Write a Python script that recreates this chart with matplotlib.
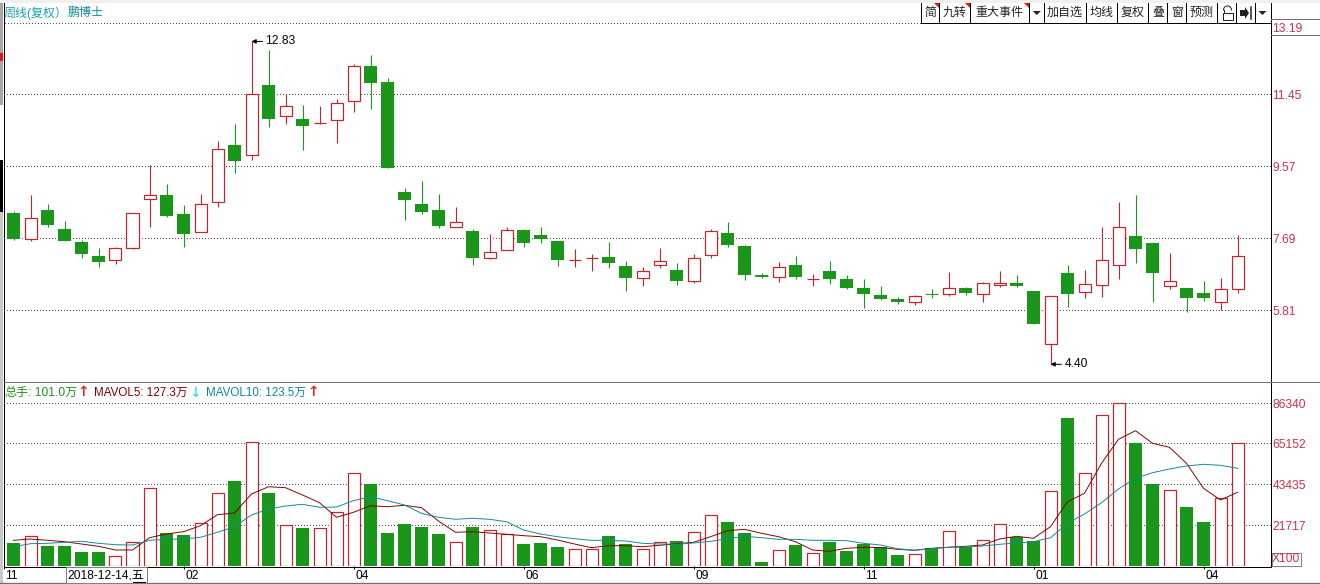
import matplotlib
matplotlib.use('Agg')
import matplotlib.pyplot as plt
import numpy as np
from matplotlib.patches import Rectangle
from matplotlib.transforms import ScaledTranslation

plt.rcParams['font.family'] = ['Liberation Sans', 'Noto Sans CJK SC', 'DejaVu Sans']

# ---------- Data ----------------------------------------------

opens = [8.35, 7.66, 8.43, 7.93, 7.59, 7.23, 7.13, 7.44, 8.72, 8.82,
	8.32, 7.86, 8.65, 10.13, 9.87, 11.69, 10.87, 10.81, 10.71, 10.79,
	11.28, 12.19, 11.77, 8.90, 8.59, 8.43, 7.99, 7.88, 7.18, 7.39,
	7.91, 7.78, 7.62, 7.12, 7.17, 7.20, 6.97, 6.66, 7.00, 6.86,
	6.58, 7.26, 7.83, 7.49, 6.73, 6.69, 6.99, 6.62, 6.84, 6.63,
	6.39, 6.21, 6.11, 6.03, 6.24, 6.24, 6.39, 6.24, 6.47, 6.52,
	6.31, 4.94, 6.78, 6.30, 6.48, 7.00, 7.75, 7.57, 6.45, 6.39,
	6.26, 6.03, 6.37]
closes = [7.67, 8.21, 8.04, 7.62, 7.28, 7.07, 7.43, 8.34, 8.81, 8.27,
	7.80, 8.58, 10.01, 9.71, 11.45, 10.81, 11.14, 10.62, 10.71, 11.22,
	12.18, 11.74, 9.53, 8.69, 8.38, 8.01, 8.11, 7.18, 7.32, 7.90,
	7.57, 7.67, 7.12, 7.12, 7.17, 7.05, 6.65, 6.83, 7.09, 6.58,
	7.17, 7.87, 7.52, 6.73, 6.71, 6.93, 6.68, 6.62, 6.63, 6.39,
	6.24, 6.11, 6.03, 6.18, 6.23, 6.38, 6.26, 6.52, 6.52, 6.44,
	5.45, 6.18, 6.24, 6.49, 7.12, 7.98, 7.41, 6.78, 6.57, 6.13,
	6.13, 6.36, 7.22]
highs = [8.40, 8.82, 8.59, 8.14, 7.65, 7.44, 7.46, 8.35, 9.60, 9.11,
	8.56, 8.85, 10.23, 10.67, 12.83, 12.61, 11.46, 11.17, 11.14, 11.33,
	12.24, 12.48, 11.88, 9.00, 9.19, 8.85, 8.51, 7.93, 7.80, 7.99,
	7.93, 7.99, 7.62, 7.41, 7.28, 7.59, 7.10, 6.94, 7.44, 7.05,
	7.28, 7.93, 8.12, 7.52, 6.78, 7.07, 7.23, 6.76, 7.10, 6.73,
	6.63, 6.44, 6.16, 6.21, 6.37, 6.81, 6.42, 6.55, 6.84, 6.73,
	6.31, 6.18, 6.99, 6.86, 7.99, 8.64, 8.82, 7.57, 7.31, 6.39,
	6.58, 6.65, 7.78]
lows = [7.65, 7.63, 7.99, 7.62, 7.18, 6.94, 7.02, 7.41, 7.99, 8.25,
	7.46, 7.85, 8.51, 9.40, 9.73, 10.60, 10.67, 10.00, 10.67, 10.18,
	10.99, 11.07, 9.53, 8.17, 8.32, 7.96, 7.99, 6.99, 7.15, 7.38,
	7.46, 7.57, 6.97, 6.94, 6.84, 6.92, 6.31, 6.44, 6.92, 6.47,
	6.52, 7.18, 7.46, 6.60, 6.65, 6.55, 6.63, 6.44, 6.50, 6.37,
	5.87, 6.08, 5.97, 5.95, 6.13, 6.18, 6.21, 6.03, 6.42, 6.42,
	5.45, 4.40, 5.90, 6.13, 6.16, 6.63, 7.05, 6.03, 6.37, 5.77,
	6.05, 5.82, 6.26]
volumes = [12340, 15890, 10750, 10750, 7570, 7570, 5300, 12710, 41320, 17640,
	16580, 22780, 38670, 45180, 65680, 38830, 21720, 20290, 20130, 28600,
	49260, 43590, 17640, 22410, 20820, 17110, 12710, 20820, 19070, 16950,
	11810, 12340, 10220, 9000, 9000, 16050, 11810, 9000, 12710, 13400,
	18010, 27010, 23470, 17640, 2280, 8480, 11280, 6890, 12870, 8100,
	11810, 9960, 5990, 6360, 9690, 18540, 10060, 13770, 22250, 15520,
	13400, 39730, 78550, 49260, 79980, 86340, 65310, 43590, 40260, 31410,
	23470, 36180, 65150]
mavol5 = [13770, 14460, 13770, 13030, 11810, 10590, 8630, 8630, 15150, 17110,
	18330, 21510, 27330, 28230, 38300, 42160, 41630, 37770, 33690, 25960,
	28600, 32100, 31570, 32310, 31040, 23990, 18010, 18330, 17640, 16950,
	16210, 15680, 13930, 11810, 9850, 10910, 10910, 10380, 11120, 11970,
	12710, 15680, 18860, 19600, 17480, 15680, 13030, 8630, 7950, 9530,
	10060, 9960, 9000, 8480, 9530, 10060, 10590, 11280, 14460, 15890,
	14830, 20980, 34220, 38670, 54560, 67270, 71830, 65150, 63030, 54560,
	41320, 35120, 39200]
mavol10 = [10380, 11970, 12180, 12710, 13240, 12180, 11440, 11280, 13770, 14300,
	14460, 15360, 18010, 20980, 27170, 30350, 31940, 32840, 31250, 31410,
	34750, 36870, 34750, 32470, 28070, 25960, 24900, 25430, 24900, 23620,
	19230, 17110, 15680, 14620, 13770, 13770, 13400, 12180, 11810, 11650,
	12340, 13240, 14620, 15890, 15150, 14300, 14300, 13770, 13770, 13560,
	12180, 11280, 9320, 8480, 9320, 10060, 10220, 10750, 11650, 12340,
	13030, 15150, 22780, 27700, 33690, 40950, 46610, 49580, 51540, 53130,
	54030, 53500, 51910]

price_ticks = [5.81, 7.69, 9.57, 11.45, 13.19]
volume_ticks = [21717, 43435, 65152, 86340]
month_pos = [-0.56, 10, 20, 30, 40, 50, 60, 70]
month_labels = ['11', '02', '04', '06', '09', '11', '01', '04']

toolbar_edges = [921, 939.3, 970.3, 1029.3, 1044.3, 1086, 1117.3, 1148.3, 1167.3, 1186.3, 1217.3, 1236.3, 1255, 1270]
toolbar_labels = ['简', '九转', '重大事件', '', '加自选', '均线', '复权', '叠', '窗', '预测', '', '', '']

# ---------- Colours --------------------------------------------

GREEN = '#1a961a'
RED = '#c8232d'
AXIS_RED = '#d0304a'
DARK_RED = '#800000'
TEAL = '#0e8a96'
DOT = '#555555'
DOTS = (0, (1, 2.5))  # comes out as 1 px on, 2 px off without antialiasing
PX = 0.72  # one pixel in points at dpi 100

W, H = 1320, 584
X0, STEP = 13.5, 17.0


# ---------- Helper functions -----------------------------------

def px_axes(fig, left, top, right, bottom):
	# axes placed by pixel box, x data scaled so that candle i sits at X0 + STEP*i
	ax = fig.add_axes([left / W, 1 - bottom / H, (right - left) / W, (bottom - top) / H])
	ax.set_xlim((left - X0) / STEP, (right - X0) / STEP)
	ax.patch.set_alpha(0)
	for spine in ax.spines.values():
		spine.set_visible(False)
	ax.set_axisbelow(True)
	return ax


def draw_candles(ax):
	x = np.arange(len(opens))
	o, c, h, l = map(np.array, (opens, closes, highs, lows))
	up = c >= o
	ax.vlines(x[up], l[up], h[up], color=RED, lw=PX * 1.1, zorder=2)
	ax.vlines(x[~up], l[~up], h[~up], color=GREEN, lw=PX * 1.1, zorder=2)
	ax.bar(x[up], (c - o)[up], bottom=o[up], width=12 / STEP, facecolor='white', edgecolor=RED, lw=PX * 1.2, zorder=3)
	ax.bar(x[~up], (o - c)[~up], bottom=c[~up], width=13 / STEP, color=GREEN, lw=0, zorder=3)
	# falling candles thinner than a pixel still show as a line
	thin = ~up & (o - c < 0.05)
	half = 6.5 / STEP
	ax.hlines(c[thin], x[thin] - half, x[thin] + half, color=GREEN, lw=PX, zorder=3)


def draw_volume(ax):
	x = np.arange(len(volumes))
	v = np.array(volumes)
	up = np.array(closes) >= np.array(opens)
	ax.bar(x[up], v[up], width=12 / STEP, facecolor='white', edgecolor=RED, lw=PX * 1.2, zorder=3)
	ax.bar(x[~up], v[~up], width=13 / STEP, color=GREEN, lw=0, zorder=3)
	ax.plot(x, mavol5, color=DARK_RED, lw=PX * 0.95, zorder=4)
	ax.plot(x, mavol10, color=TEAL, lw=PX * 0.95, zorder=5)


def mark_extreme(ax, i, value, dy):
	ax.annotate('%.2f' % value, xy=(i, value), xytext=(10, dy), textcoords='offset points',
		fontsize=8.64, color='black', va='center', ha='left', zorder=6,
		arrowprops=dict(arrowstyle='-|>,head_width=0.15,head_length=0.3', color='black', lw=PX, shrinkA=0, shrinkB=0))


def draw_toolbar(chrome):
	for i, label in enumerate(toolbar_labels):
		left, right = toolbar_edges[i], toolbar_edges[i + 1]
		chrome.plot([left, left], [3, 22.5], color='black', lw=PX)
		if label:
			chrome.text((left + right) / 2, 13, label, ha='center', va='center', fontsize=8.64, color='#222222')
	for right in [939.3, 970.3, 1029.3]:
		chrome.fill([right - 5, right, right], [3, 3, 8], color='#ee1111', lw=0)
	# drop-down arrows
	for mid in [1036.8, 1262.5]:
		chrome.fill([mid - 4, mid + 4, mid], [11, 11, 15], color='#222222', lw=0)
	# lock
	chrome.add_patch(Rectangle((1222.5, 13), 10, 7, facecolor='white', edgecolor='#222222', lw=PX))
	t = np.linspace(np.pi, 2 * np.pi, 20)
	chrome.plot(1227.5 + 4 * np.cos(t), 10 + 4 * np.sin(t), color='#222222', lw=PX)
	chrome.plot([1223.5, 1223.5], [10, 13], color='#222222', lw=PX)
	# pin to right icon
	chrome.fill([1240, 1245, 1245, 1249, 1245, 1245, 1240], [10, 10, 7, 13, 19, 16, 16], color='#222222', lw=0)
	chrome.plot([1251, 1251], [7, 19], color='#222222', lw=PX * 1.5)


def draw_chrome(chrome):
	chrome.set_xlim(0, W)
	chrome.set_ylim(H, 0)
	chrome.axis('off')
	chrome.patch.set_alpha(0)

	# window edges and pane separators
	chrome.add_patch(Rectangle((0, 0), W, 3, facecolor='#f0f0f0', lw=0))
	chrome.add_patch(Rectangle((0, 3), 2.5, 102, facecolor='#a8a8a8', lw=0))
	chrome.add_patch(Rectangle((0, 160), 2.5, 52, facecolor='black', lw=0))
	chrome.add_patch(Rectangle((0, 53), 2.5, 8, facecolor='#ee1111', lw=0))
	chrome.add_patch(Rectangle((0, 212), 2.5, 372, facecolor='#c8c8c8', lw=0))
	chrome.plot([3.5, 3.5], [3, 566.5], color='black', lw=PX)
	chrome.plot([1270.5, 1270.5], [3, 566.5], color='black', lw=PX)
	chrome.plot([3.5, 1270.5], [566.5, 566.5], color='black', lw=PX)
	chrome.plot([921, 1270.5], [22.5, 22.5], color='black', lw=PX)
	chrome.plot([3.5, W], [382, 382], color='#707070', lw=PX)
	chrome.plot([0, W], [583.2, 583.2], color='#707070', lw=PX * 1.3)
	chrome.plot([1271, W], [18.5, 18.5], color='#707070', lw=PX)
	chrome.plot([1271, W], [35, 35], color='#707070', lw=PX)
	# the top grid line sits above its label and stops at the toolbar
	chrome.plot([5, 921], [23.3, 23.3], color=DOT, lw=PX, ls=DOTS, antialiased=False)

	draw_toolbar(chrome)

	# header texts
	chrome.text(4, 13, '周线(复权）', color='#17a2b8', fontsize=8.64, va='center')
	chrome.text(68, 13, '鹏博士', color=TEAL, fontsize=8.64, va='center')

	chrome.text(4, 393, '总手', color=GREEN, fontsize=8.64, va='center')
	chrome.text(28, 393, ': 101.0万', color=GREEN, fontsize=8.64, va='center')
	chrome.text(83, 392.5, '↑', color='#ee2222', fontsize=10, fontweight='bold', ha='center', va='center', family='DejaVu Sans')
	chrome.text(94, 393, 'MAVOL5: 127.3万', color=DARK_RED, fontsize=8.4, va='center')
	chrome.text(195, 392.5, '↓', color='#55ddee', fontsize=10, fontweight='bold', ha='center', va='center', family='DejaVu Sans')
	chrome.text(206, 393, 'MAVOL10: 123.5万', color=TEAL, fontsize=8.4, va='center')
	chrome.text(313, 392.5, '↑', color='#ee2222', fontsize=10, fontweight='bold', ha='center', va='center', family='DejaVu Sans')

	# crosshair date box and unit box
	chrome.add_patch(Rectangle((65.5, 566.5), 81, 16.5, facecolor='white', edgecolor='#808080', lw=PX, zorder=4))
	chrome.text(67, 575, '2018-12-14,五', color='black', fontsize=8.64, va='center', zorder=5)
	chrome.plot([133, 145], [581.5, 581.5], color='black', lw=PX, zorder=5)
	chrome.add_patch(Rectangle((1271.5, 552.7), 29, 13.3, facecolor='white', edgecolor='#808080', lw=PX))
	chrome.text(1286, 559.5, 'X100', color=AXIS_RED, fontsize=8.64, ha='center', va='center')


# ---------- Main Program ---------------------------------------

def main():
	fig = plt.figure(figsize=(W / 100, H / 100), dpi=100, facecolor='white')

	chrome = fig.add_axes([0, 0, 1, 1], zorder=1)
	draw_chrome(chrome)

	ax_price = px_axes(fig, 3.5, 22.5, 1270.5, 382)
	ax_price.set_ylim(3.938, 13.324)
	ax_price.set_zorder(2)
	draw_candles(ax_price)
	mark_extreme(ax_price, 14, 12.83, 0)
	mark_extreme(ax_price, 61, 4.40, 0)
	ax_price.set_xticks([])
	ax_price.yaxis.tick_right()
	ax_price.set_yticks(price_ticks, ['%.2f' % p for p in price_ticks])
	ax_price.tick_params(axis='y', length=0, pad=1.5, labelsize=8.64, labelcolor=AXIS_RED)
	ax_price.grid(axis='y', color=DOT, lw=PX, ls=DOTS, antialiased=False)
	ax_price.get_ygridlines()[-1].set_visible(False)

	ax_vol = px_axes(fig, 3.5, 382, 1270.5, 566.3)
	ax_vol.set_ylim(0, 97625)
	ax_vol.set_zorder(2)
	draw_volume(ax_vol)
	ax_vol.yaxis.tick_right()
	ax_vol.set_yticks(volume_ticks, [str(v) for v in volume_ticks])
	ax_vol.tick_params(axis='y', length=0, pad=1.5, labelsize=8.64, labelcolor=AXIS_RED)
	ax_vol.grid(axis='y', color=DOT, lw=PX, ls=DOTS, antialiased=False)
	ax_vol.set_xticks(month_pos, month_labels, ha='left')
	ax_vol.tick_params(axis='x', length=2.5, width=PX, pad=0.5, labelsize=8.64, labelcolor='black')
	shift = ScaledTranslation(1.5 / 100, 0, fig.dpi_scale_trans)
	for label in ax_vol.get_xticklabels():
		label.set_transform(label.get_transform() + shift)

	fig.savefig('out.png', dpi=100)


if __name__ == '__main__':
	main()
